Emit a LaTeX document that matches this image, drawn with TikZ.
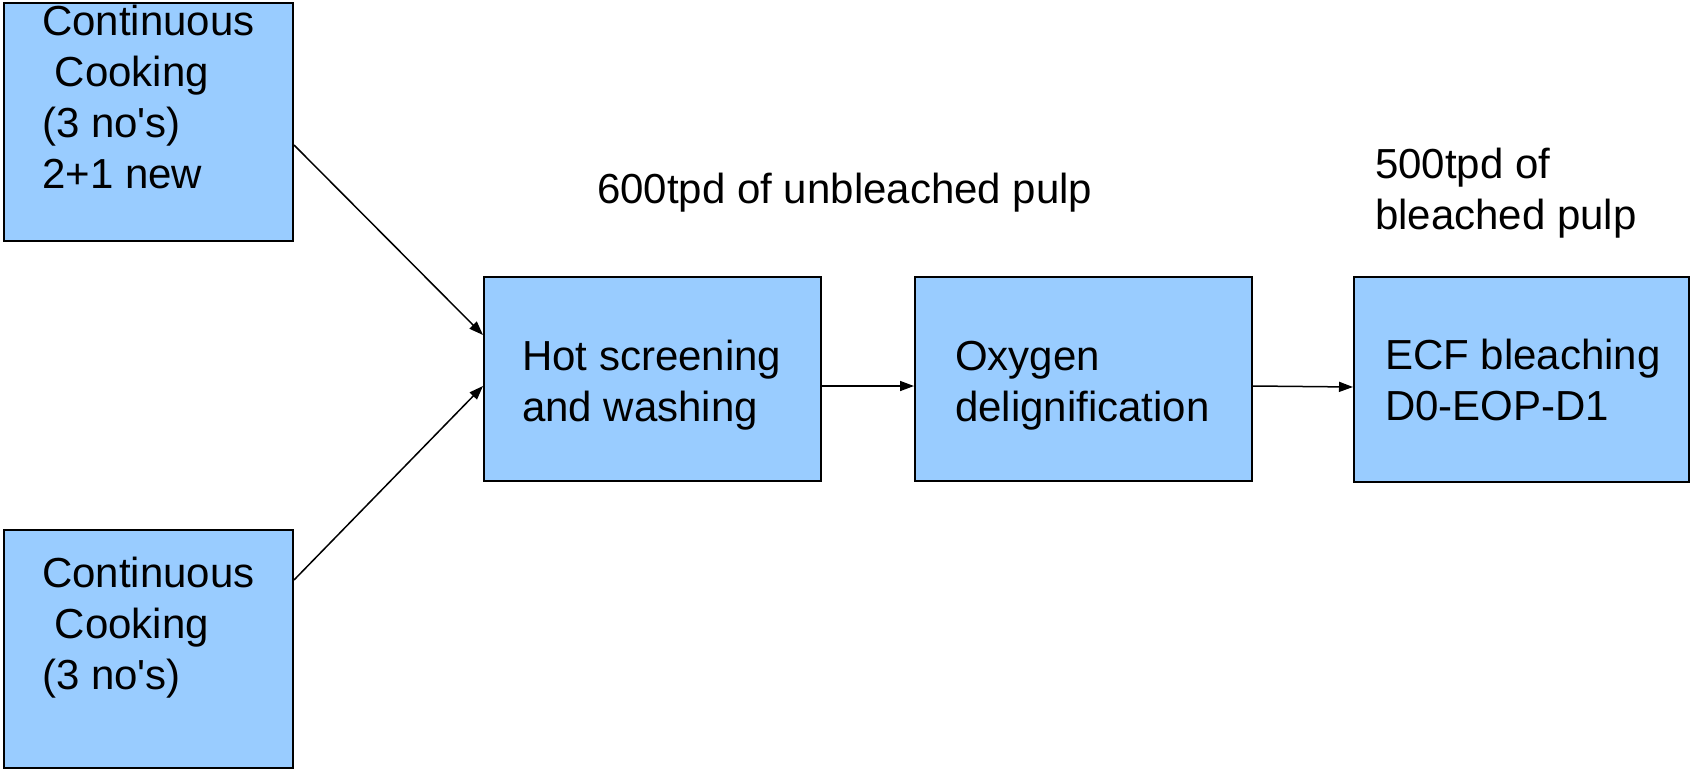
\documentclass[tikz,border=0pt]{standalone}
\usepackage{fontspec}
\setmainfont{Liberation Sans}
\newfontfamily\arialfont{Liberation Sans}
\usetikzlibrary{arrows.meta}
\definecolor{boxblue}{HTML}{99CCFF}
\tikzset{
  procbox/.style={draw=black, fill=boxblue, line width=2pt, rectangle, inner sep=0pt},
  txt/.style={anchor=base west, inner sep=0pt, align=left, font=\arialfont\fontsize{42}{51}\selectfont},
  flow/.style={line width=1.5pt, -{Triangle[length=14pt,width=10pt]}}
}
\begin{document}
\begin{tikzpicture}[x=1pt,y=-1pt]
\useasboundingbox (0,0) rectangle (1690,771);
% boxes
\node[procbox, minimum width=289pt, minimum height=238pt] (c1) at (148.5,122) {};
\node[procbox, minimum width=289pt, minimum height=238pt] (c2) at (148.5,649) {};
\node[procbox, minimum width=337pt, minimum height=204pt] (hs) at (652.5,379) {};
\node[procbox, minimum width=337pt, minimum height=204pt] (ox) at (1083.5,379) {};
\node[procbox, minimum width=335pt, minimum height=205pt] (ecf) at (1521.5,379.5) {};
% texts (anchor is the baseline of the last line)
\node[txt] (t1) at (42,188) {Continuous\\\hspace*{0.3em}Cooking\\(3 no's)\\2+1 new};
\node[txt] (t2) at (42,689) {Continuous\\\hspace*{0.3em}Cooking\\(3 no's)};
\node[txt] (t3) at (522,421) {Hot screening\\and washing};
\node[txt] (t4) at (955,421) {Oxygen\\delignification};
\node[txt] (t5) at (1385,420) {ECF bleaching\\D0-EOP-D1};
\node[txt] (l1) at (597,203) {600tpd of unbleached pulp};
\node[txt] (l2) at (1375,229) {500tpd of\\bleached pulp};
% connectors
\draw[flow] ([yshift=-23pt]c1.east) -- ([yshift=44pt]hs.west);
\draw[flow] ([yshift=69pt]c2.east) -- ([yshift=-7pt]hs.west);
\draw[flow] ([yshift=-7pt]hs.east) -- ([yshift=-7pt]ox.west);
\draw[flow] ([yshift=-7pt]ox.east) -- ([yshift=-7.5pt]ecf.west);
\end{tikzpicture}
\end{document}
